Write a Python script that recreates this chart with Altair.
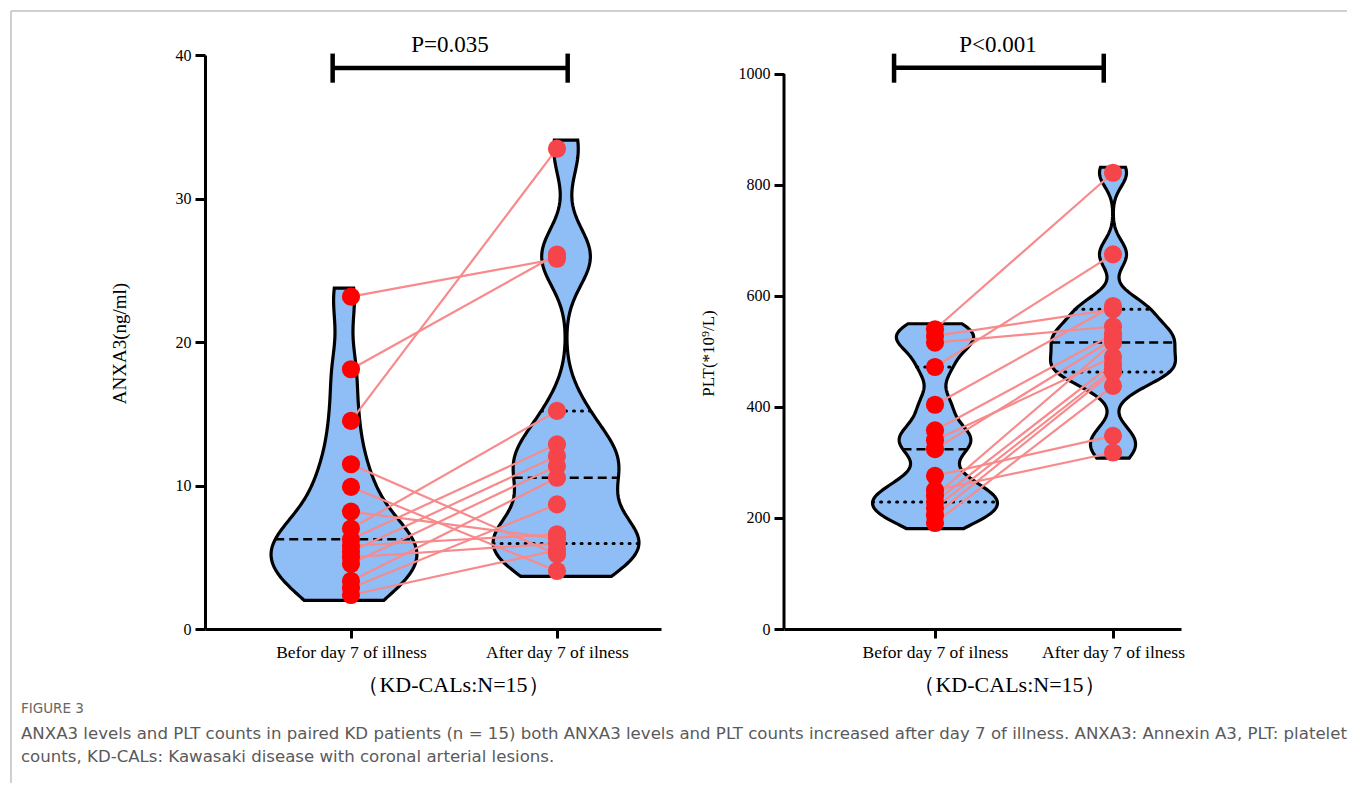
import altair as alt
import pandas as pd

# ---------------- data ----------------
groups = ["Before", "After"]
group_pos = [1, 2]

# paired values (same index = same patient)
anxa3_before = [23.16, 18.1, 14.5, 11.48, 9.9, 8.18, 7.0, 6.25, 5.8, 5.4, 5.0, 4.55, 3.35, 2.85, 2.37]
anxa3_after = [25.8, 26.1, 33.47, 5.2, 4.04, 6.3, 15.2, 12.87, 6.6, 12.06, 5.95, 11.36, 10.54, 8.69, 5.5]

plt_before = [540, 528, 516, 472, 404, 358, 340, 324, 276, 250, 240, 229, 218, 205, 191]
plt_after = [822, 576, 545, 675, 582, 531, 490, 522, 348, 318, 516, 478, 468, 463, 438]

anxa3_ticks = [0, 10, 20, 30, 40]
plt_ticks = [0, 200, 400, 600, 800, 1000]

labels_anxa3 = ["Befor day 7 of illness", "After day 7 of ilness"]
labels_plt = ["Befor day 7 of ilness", "After day 7 of ilness"]
x_title = "（KD-CALs:N=15）"
y_titles = ["ANXA3(ng/ml)", "PLT(*10⁹/L)"]
p_texts = ["P=0.035", "P<0.001"]
caption_head = "FIGURE 3"
caption_1 = ("ANXA3 levels and PLT counts in paired KD patients (n = 15) both ANXA3 levels and PLT counts "
             "increased after day 7 of illness. ANXA3: Annexin A3, PLT: platelet")
caption_2 = "counts, KD-CALs: Kawasaki disease with coronal arterial lesions."

# ---------------- style ----------------
SERIF = "Liberation Serif"
SANS = "DejaVu Sans"
FILL = "#8fbdf5"
LINE = "#f88a8c"
RED1 = "#ff0000"
RED2 = "#f5444a"
FRAME = "#a0a0a0"
CAP = "#5a5a5a"


def make_panel(before, after, *, bw, pad, xdom, ydom, yticks, ytitle, ytitle_size, ytitle_x, ytitle_y,
               xlabels, xtitle_x, centers, half, show_quart, bracket, ptext, ptext_x, width, height,
               axis_line=None, extras=()):
    n = len(before)
    df = pd.DataFrame({
        "id": list(range(n)) * 2,
        "group": [groups[0]] * n + [groups[1]] * n,
        "gx": [group_pos[0]] * n + [group_pos[1]] * n,
        "value": list(before) + list(after),
    })
    xs = alt.Scale(domain=xdom, nice=False, zero=False)
    ys = alt.Scale(domain=ydom, nice=False, zero=False)
    expr = f"datum.value == {group_pos[0]} ? '{xlabels[0]}' : '{xlabels[1]}'"
    xaxis = alt.Axis(values=group_pos, labelExpr=expr, title=x_title, grid=False,
                     domainColor="black", domainWidth=3, tickColor="black", tickWidth=3, tickSize=9,
                     labelFont=SERIF, labelFontSize=17.5, labelColor="black", labelPadding=5,
                     labelFlush=False, labelOverlap=False,
                     titleFont=SERIF, titleFontSize=22, titleFontWeight="normal", titleColor="black",
                     titleX=xtitle_x, titleY=55, titleAlign="center", titleBaseline="middle")
    yaxis = alt.Axis(values=yticks, title=ytitle, grid=False, domain=axis_line is None, format="d",
                     domainColor="black", domainWidth=3, tickColor="black", tickWidth=3, tickSize=10,
                     labelFont=SERIF, labelFontSize=16, labelColor="black", labelPadding=4,
                     labelFlush=False,
                     titleFont=SERIF, titleFontSize=ytitle_size, titleFontWeight="normal",
                     titleColor="black", titleX=ytitle_x, titleY=ytitle_y, titleAngle=270,
                     titleAlign="center", titleBaseline="middle")

    def X(f):
        return alt.X(f, scale=xs, axis=xaxis)

    def Y(f):
        return alt.Y(f, scale=ys, axis=yaxis)

    layers = []
    for g, c, vals, sq in zip(groups, centers, [before, after], show_quart):
        base = (alt.Chart(df)
                .transform_filter(f"datum.group == '{g}'")
                .transform_window(rank="row_number()", sort=[{"field": "value", "order": "ascending"}])
                .transform_joinaggregate(n="count(value)")
                .transform_calculate(
                    q1v="datum.rank == round((datum.n + 1) / 4) ? datum.value : null",
                    medv="datum.rank == round((datum.n + 1) / 2) ? datum.value : null",
                    q3v="datum.rank == round(3 * (datum.n + 1) / 4) ? datum.value : null")
                .transform_joinaggregate(q1="max(q1v)", med="max(medv)", q3="max(q3v)")
                .transform_density("value", as_=["value", "density"], groupby=["q1", "med", "q3"],
                                   bandwidth=bw, steps=200,
                                   extent=[min(vals) - pad[0], max(vals) + pad[1]])
                .transform_joinaggregate(maxd="max(density)")
                .transform_calculate(hw=f"datum.density / datum.maxd * {half}")
                .transform_calculate(xl=f"{c} - datum.hw", xr=f"{c} + datum.hw"))
        area = base.mark_area(orient="horizontal", fill=FILL, stroke="black", strokeWidth=3.2,
                              opacity=1).encode(x=X("xl:Q"), x2="xr:Q", y=Y("value:Q"))
        q = (base.transform_calculate(d1="abs(datum.value - datum.q1)",
                                      d2="abs(datum.value - datum.med)",
                                      d3="abs(datum.value - datum.q3)")
             .transform_aggregate(a1="argmin(d1)", a2="argmin(d2)", a3="argmin(d3)",
                                  groupby=["q1", "med", "q3"])
             .transform_fold(["q1", "med", "q3"], as_=["qk", "qv"])
             .transform_calculate(w="datum.qk == 'q1' ? datum.a1.hw : (datum.qk == 'med' ? datum.a2.hw : datum.a3.hw)")
             .transform_calculate(x1=f"{c} - datum.w", x2=f"{c} + datum.w"))
        med = q.transform_filter("datum.qk == 'med'").mark_rule(
            color="black", strokeWidth=2.5, strokeDash=[9, 5]).encode(x=X("x1:Q"), x2="x2:Q", y=Y("qv:Q"))
        layers += [area, med]
        if sq:
            quart = q.transform_filter("datum.qk != 'med'").mark_rule(
                color="black", strokeWidth=3, strokeDash=[1, 7], strokeCap="round").encode(
                x=X("x1:Q"), x2="x2:Q", y=Y("qv:Q"))
            layers.append(quart)

    lines = alt.Chart(df).mark_line(color=LINE, strokeWidth=2.2).encode(
        x=X("gx:Q"), y=Y("value:Q"), detail="id:N")
    pts = alt.Chart(df).mark_circle(size=330, opacity=1).encode(
        x=X("gx:Q"), y=Y("value:Q"),
        color=alt.Color("group:N", scale=alt.Scale(domain=groups, range=[RED1, RED2]), legend=None))

    bx0, bx1, by, blo, bhi = bracket
    bdf = pd.DataFrame({"x": [bx0, bx0, bx1], "x2": [bx1, bx0, bx1],
                        "y": [by, blo, blo], "y2": [by, bhi, bhi]})
    br = alt.Chart(bdf).mark_rule(color="black", strokeWidth=4.5).encode(
        x=X("x:Q"), x2="x2:Q", y=Y("y:Q"), y2="y2:Q")
    pt = alt.Chart(pd.DataFrame({"t": [ptext]})).mark_text(
        font=SERIF, fontSize=23, color="black", baseline="middle", align="center").encode(
        x=alt.value(ptext_x), y=alt.value(-10), text="t:N")

    all_layers = layers + [lines, pts, br, pt]
    if axis_line is not None:
        adf = pd.DataFrame({"lo": [axis_line[0]], "hi": [axis_line[1]]})
        all_layers.append(alt.Chart(adf).mark_rule(color="black", strokeWidth=3).encode(
            x=alt.value(0), y=Y("lo:Q"), y2="hi:Q"))
    all_layers += list(extras)
    return alt.layer(*all_layers).properties(width=width, height=height)


one = pd.DataFrame({"k": [0]})
frame_top = alt.Chart(one).mark_rule(color=FRAME, strokeWidth=1).encode(
    x=alt.value(-194), x2=alt.value(1142), y=alt.value(-44))
frame_left = alt.Chart(one).mark_rule(color=FRAME, strokeWidth=1).encode(
    x=alt.value(-194), y=alt.value(-44), y2=alt.value(728))
cap_head = alt.Chart(one).mark_text(align="left", baseline="middle", font=SANS, fontSize=13.5,
                                    color="#666666").encode(
    x=alt.value(-184), y=alt.value(654), text=alt.value(caption_head))
cap_1 = alt.Chart(one).mark_text(align="left", baseline="middle", font=SANS, fontSize=16.6,
                                 color=CAP).encode(
    x=alt.value(-184), y=alt.value(679), text=alt.value(caption_1))
cap_2 = alt.Chart(one).mark_text(align="left", baseline="middle", font=SANS, fontSize=16.6,
                                 color=CAP).encode(
    x=alt.value(-184), y=alt.value(702), text=alt.value(caption_2))

p1 = make_panel(
    anxa3_before, anxa3_after, bw=2.0, pad=[0.37, 0.6], xdom=[0.2913, 2.505], ydom=[0, 40],
    yticks=anxa3_ticks, ytitle=y_titles[0], ytitle_size=19, ytitle_x=-86, ytitle_y=288,
    xlabels=labels_anxa3, xtitle_x=248, centers=[0.966, 2.044], half=0.354, show_quart=[False, True],
    bracket=[0.911, 2.052, 39.1, 38.07, 40.1], ptext=p_texts[0], ptext_x=245,
    width=456, height=574, extras=[frame_top, frame_left, cap_head, cap_1, cap_2])

p2 = make_panel(
    plt_before, plt_after, bw=25, pad=[10, 10], xdom=[0.1517, 2.382], ydom=[0, 1034.2],
    yticks=plt_ticks, ytitle=y_titles[1], ytitle_size=17, ytitle_x=-76, ytitle_y=298,
    xlabels=labels_plt, xtitle_x=225, centers=[1, 2], half=0.351, show_quart=[True, True],
    bracket=[0.770, 1.948, 1011.4, 984.3, 1036.6], ptext=p_texts[1], ptext_x=214,
    width=397, height=574, axis_line=[0, 1000])

chart = (alt.hconcat(p1, p2, spacing=123, bounds="flush")
         .properties(padding={"left": 2, "top": 2, "right": 0, "bottom": 0}, background="white")
         .configure_view(stroke=None))

chart.save("out.html", embed_options={"renderer": "svg", "actions": False})
